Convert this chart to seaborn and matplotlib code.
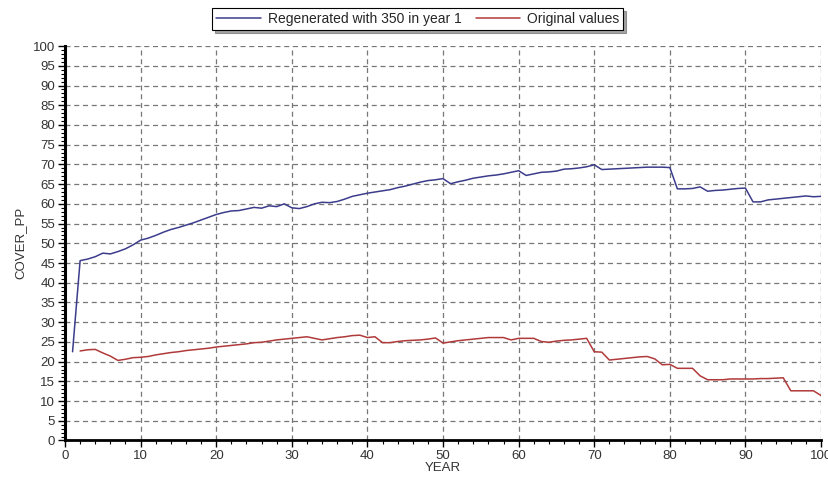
import numpy as np
import pandas as pd
import matplotlib
matplotlib.use("Agg")
import matplotlib.pyplot as plt
import seaborn as sns
from matplotlib.ticker import MultipleLocator
from matplotlib.lines import Line2D

years = list(range(1, 101))

regenerated = [
    22.5, 45.6, 46.0, 46.6, 47.5, 47.3, 47.9, 48.6, 49.6, 50.8,
    51.3, 52.0, 52.8, 53.5, 54.0, 54.6, 55.2, 55.9, 56.6, 57.3,
    57.8, 58.2, 58.3, 58.7, 59.1, 58.9, 59.5, 59.3, 60.0, 59.0,
    58.8, 59.3, 60.0, 60.4, 60.3, 60.6, 61.2, 61.9, 62.3, 62.7,
    63.0, 63.3, 63.6, 64.1, 64.5, 65.0, 65.5, 65.9, 66.1, 66.4,
    65.1, 65.6, 66.0, 66.5, 66.8, 67.1, 67.3, 67.6, 68.0, 68.4,
    67.2, 67.6, 68.0, 68.1, 68.3, 68.8, 68.9, 69.1, 69.4, 69.9,
    68.7, 68.8, 68.9, 69.0, 69.1, 69.2, 69.3, 69.3, 69.3, 69.2,
    63.8, 63.8, 63.9, 64.3, 63.2, 63.4, 63.5, 63.7, 63.9, 64.0,
    60.5, 60.5, 61.0, 61.2, 61.4, 61.6, 61.8, 62.0, 61.8, 61.9,
]

original = [
    np.nan, 22.7, 23.0, 23.1, 22.2, 21.4, 20.3, 20.6, 21.0, 21.1,
    21.3, 21.7, 22.0, 22.3, 22.5, 22.8, 23.0, 23.2, 23.4, 23.7,
    23.9, 24.1, 24.3, 24.5, 24.8, 24.9, 25.2, 25.5, 25.7, 25.9,
    26.1, 26.3, 25.9, 25.5, 25.8, 26.1, 26.3, 26.6, 26.7, 26.1,
    26.3, 24.8, 24.8, 25.1, 25.3, 25.4, 25.5, 25.7, 26.0, 24.7,
    25.0, 25.3, 25.5, 25.7, 25.9, 26.1, 26.1, 26.1, 25.5, 25.9,
    25.9, 25.9, 25.1, 24.9, 25.2, 25.4, 25.5, 25.7, 25.9, 22.5,
    22.4, 20.4, 20.6, 20.8, 21.0, 21.2, 21.3, 20.7, 19.2, 19.3,
    18.3, 18.3, 18.3, 16.4, 15.4, 15.4, 15.4, 15.6, 15.6, 15.6,
    15.6, 15.7, 15.7, 15.8, 15.9, 12.6, 12.6, 12.6, 12.6, 11.4,
]

labels = ["Regenerated with 350 in year 1", "Original values"]
colors = ["#3c3c8c", "#b03a3a"]

sns.set_theme(style="white")
plt.rcParams['font.family'] = ['Liberation Sans', 'DejaVu Sans']

df = pd.DataFrame({
    "YEAR": years * 2,
    "COVER_PP": regenerated + original,
    "series": [labels[0]] * len(years) + [labels[1]] * len(years),
})

fig = plt.figure(figsize=(8.29, 4.80), dpi=100)
ax = fig.add_axes([0.0784, 0.0823, 0.912, 0.8217])

sns.lineplot(data=df, x="YEAR", y="COVER_PP", hue="series",
             palette=dict(zip(labels, colors)), linewidth=1.1, ax=ax,
             legend=False)

ax.set_xlim(0, 100)
ax.set_ylim(0, 100)
ax.xaxis.set_major_locator(MultipleLocator(10))
ax.xaxis.set_minor_locator(MultipleLocator(2))
ax.yaxis.set_major_locator(MultipleLocator(5))
ax.yaxis.set_minor_locator(MultipleLocator(1))

ax.grid(True, which="major", color="#777777", linestyle=(0, (4, 3)), linewidth=0.9)
ax.set_axisbelow(True)

for s in ["top", "right"]:
    ax.spines[s].set_visible(False)
ax.spines["left"].set_color("black")
ax.spines["left"].set_linewidth(2.2)
ax.spines["bottom"].set_color("black")
ax.spines["bottom"].set_linewidth(2.0)

ax.tick_params(axis="both", which="major", direction="out", length=5, width=1,
               color="black", labelsize=9.5, labelcolor="#333333", pad=2,
               left=True, bottom=True)
ax.tick_params(axis="both", which="minor", direction="out", length=3, width=0.8,
               color="black", left=True, bottom=True)

ax.set_xlabel("YEAR", fontsize=9.5, color="#333333", labelpad=0)
ax.set_ylabel("COVER_PP", fontsize=9.5, color="#333333", labelpad=5)

handles = [Line2D([0], [0], color=c, lw=1.1) for c in colors]
leg = fig.legend(handles, labels, loc="upper center", bbox_to_anchor=(0.504, 0.983),
                 ncol=2, fontsize=10, frameon=True, fancybox=False, shadow=True,
                 handlelength=3.2, handletextpad=0.5, columnspacing=1.0,
                 borderpad=0.3, borderaxespad=0)
leg.get_frame().set_edgecolor("black")
leg.get_frame().set_linewidth(0.8)

fig.savefig("out.png", dpi=100)
